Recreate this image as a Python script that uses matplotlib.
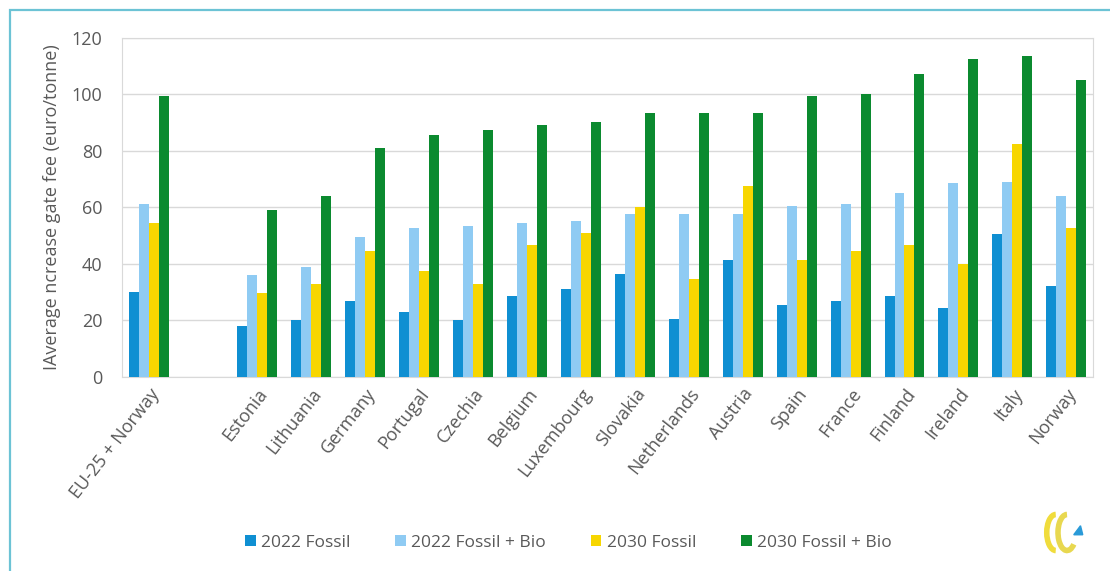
import matplotlib.pyplot as plt
import matplotlib.patches as patches
import numpy as np

plt.rcParams['font.family'] = ['Open Sans', 'DejaVu Sans']

countries = ['EU-25 + Norway', '', 'Estonia', 'Lithuania', 'Germany', 'Portugal',
             'Czechia', 'Belgium', 'Luxembourg', 'Slovakia', 'Netherlands', 'Austria',
             'Spain', 'France', 'Finland', 'Ireland', 'Italy', 'Norway']

# nan = empty slot between the EU average and the countries
fossil_2022 = [30, np.nan, 18, 20, 27, 23, 20, 28.5, 31, 36.5, 20.5, 41.5, 25.5, 27, 28.5, 24.5, 50.5, 32]
fossil_bio_2022 = [61, np.nan, 36, 39, 49.5, 52.5, 53.5, 54.5, 55, 57.5, 57.5, 57.5, 60.5, 61, 65, 68.5, 69, 64]
fossil_2030 = [54.5, np.nan, 29.5, 33, 44.5, 37.5, 33, 46.5, 51, 60, 34.5, 67.5, 41.5, 44.5, 46.5, 40, 82.5, 52.5]
fossil_bio_2030 = [99.5, np.nan, 59, 64, 81, 85.5, 87.5, 89, 90, 93.5, 93.5, 93.5, 99.5, 100, 107, 112.5, 113.5, 105]

series = [
    ('2022 Fossil', fossil_2022, '#0f8fd2'),
    ('2022 Fossil + Bio', fossil_bio_2022, '#8fcbf3'),
    ('2030 Fossil', fossil_2030, '#f7d600'),
    ('2030 Fossil + Bio', fossil_bio_2030, '#0b8a2f'),
]

fig = plt.figure(figsize=(11.1, 5.71), dpi=100)
ax = fig.add_axes([0.110, 0.340, 0.875, 0.594])

x = np.arange(len(countries))
w = 0.185
for i, (name, vals, col) in enumerate(series):
    ax.bar(x + (i - 1.5) * w, vals, w, color=col, label=name, zorder=3)

ax.set_xlim(-0.5, len(countries) - 0.5)
ax.set_ylim(0, 120)
ax.set_yticks(range(0, 121, 20))
ax.yaxis.grid(True, color='#d9d9d9', linewidth=1, zorder=0)
ax.tick_params(axis='both', length=0, labelsize=13, colors='#595959')
ax.tick_params(axis='y', pad=14)
ax.tick_params(axis='x', pad=6)
ax.set_xticks(x)
ax.set_xticklabels(countries, rotation=52, ha='right', rotation_mode='anchor')
for s in ax.spines.values():
    s.set_color('#d9d9d9')
ax.set_ylabel('IAverage ncrease gate fee (euro/tonne)', fontsize=13, color='#595959', labelpad=8)

ax.legend(loc='center', bbox_to_anchor=(0.512, 1 - 543 / 571), bbox_transform=fig.transFigure,
          ncol=4, frameon=False, fontsize=12.5, handlelength=0.6, handleheight=0.6,
          handletextpad=0.3, columnspacing=2.6, labelcolor='#595959')

# outer frame
fig.patches.append(patches.Rectangle((10 / 1110, -0.02), 1.1, 1 - 10 / 571 + 0.02,
                                     transform=fig.transFigure, fill=False,
                                     edgecolor='#6cc3d5', linewidth=1.6))

# small logo in the corner
lax = fig.add_axes([1040 / 1110, 1 - 555 / 571, 45 / 1110, 45 / 571])
lax.set_xlim(0, 1)
lax.set_ylim(0, 1)
lax.axis('off')
lax.add_patch(patches.Arc((0.35, 0.5), 0.4, 0.8, theta1=90, theta2=270, color='#f0dc3c', linewidth=4))
lax.add_patch(patches.Arc((0.6, 0.5), 0.4, 0.8, theta1=90, theta2=300, color='#e8d850', linewidth=4))
lax.add_patch(patches.Polygon([[0.75, 0.45], [0.95, 0.45], [0.9, 0.65]], color='#2a9ad8'))

fig.savefig('out.png', dpi=100)
